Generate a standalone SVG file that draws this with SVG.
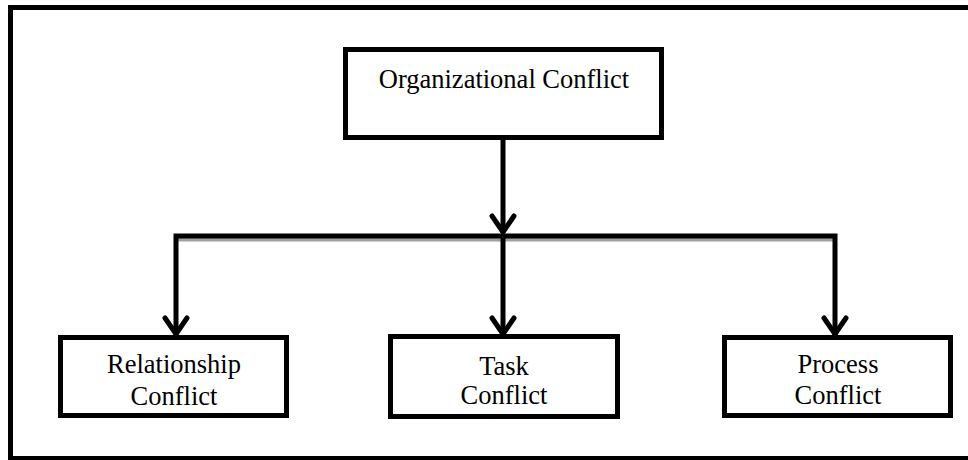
<svg xmlns="http://www.w3.org/2000/svg" width="968" height="460" viewBox="0 0 968 460">
<style>
.box{fill:#fff;stroke:#000;stroke-width:5}
.ln{fill:none;stroke:#000;stroke-width:5}
.arr{fill:none;stroke:#000;stroke-width:5;stroke-linecap:round;stroke-linejoin:miter}
.t{font-family:"Liberation Serif","Times New Roman",serif;font-size:26.5px;fill:#000;text-anchor:middle}
</style>
<rect width="968" height="460" fill="#fff"/>
<rect x="10.5" y="7.5" width="970" height="451" fill="none" stroke="#000" stroke-width="5"/>
<g id="connectors">
<line x1="175" y1="239.5" x2="835" y2="239.5" stroke="#a0a0a0" stroke-width="4"/>
<line class="ln" x1="503" y1="140" x2="503" y2="233"/>
<polyline class="arr" points="492,216 503,232 514,216"/>
<polyline class="ln" points="176,335 176,236 835,236 835,335"/>
<line class="ln" x1="503" y1="236" x2="503" y2="334"/>
<polyline class="arr" points="165,318 176,334 187,318"/>
<polyline class="arr" points="492,318 503,334 514,318"/>
<polyline class="arr" points="824,318 835,334 846,318"/>
</g>
<g id="org">
<rect class="box" x="345.5" y="49.5" width="316" height="88"/>
<text class="t" x="504" y="88">Organizational Conflict</text>
</g>
<g id="relationship">
<rect class="box" x="60.5" y="337.5" width="226" height="78"/>
<text class="t" x="174" y="373">Relationship</text>
<text class="t" x="174" y="405">Conflict</text>
</g>
<g id="task">
<rect class="box" x="390.5" y="336.5" width="227" height="80"/>
<text class="t" x="504" y="375">Task</text>
<text class="t" x="504" y="404">Conflict</text>
</g>
<g id="process">
<rect class="box" x="724.5" y="337.5" width="226" height="78"/>
<text class="t" x="838" y="373">Process</text>
<text class="t" x="838" y="404">Conflict</text>
</g>
</svg>
